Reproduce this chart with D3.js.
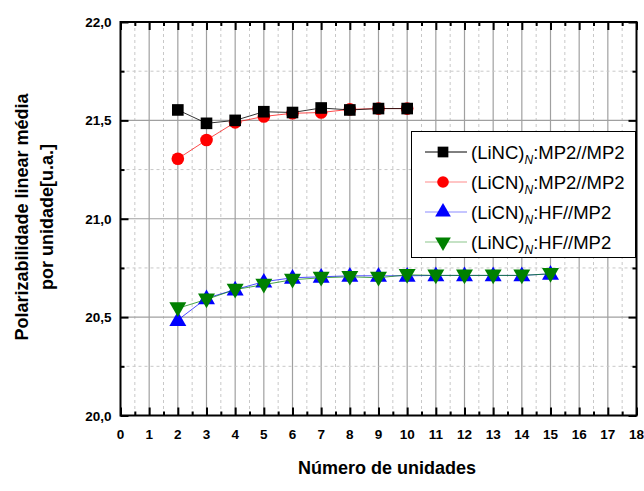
<!DOCTYPE html>
<html><head><meta charset="utf-8">
<script src="https://cdn.jsdelivr.net/npm/d3@7"></script>
<style>body{margin:0;background:#fff;} svg{display:block;font-family:"Liberation Sans",Arial,sans-serif;}</style>
</head><body><svg id="c" width="644" height="491"></svg>
<script>
const nAll = [2,3,4,5,6,7,8,9,10,11,12,13,14,15];
const linc_mp2 = [21.553,21.485,21.50,21.544,21.54,21.563,21.553,21.56,21.56];
const licn_mp2 = [21.305,21.40,21.49,21.52,21.536,21.54,21.556,21.56,21.56];
const licn_hf = [20.485,20.596,20.64,20.68,20.70,20.705,20.71,20.71,20.71,20.712,20.712,20.712,20.712,20.72];
const linc_hf = [20.545,20.59,20.64,20.665,20.69,20.70,20.705,20.70,20.715,20.712,20.712,20.712,20.712,20.72];
const seriesNames = ["(LiNC)","(LiCN)","(LiCN)","(LiNC)"];
const seriesSuffix = [":MP2//MP2",":MP2//MP2",":HF//MP2",":HF//MP2"];
const xTicks = d3.range(0,19);
const yTickLabels = ["20,0","20,5","21,0","21,5","22,0"];
const yTicks = [20,20.5,21,21.5,22];

const svg = d3.select("#c");
const L=120.5,R=636.5,T=22,B=415.5;
const x = d3.scaleLinear().domain([0,18]).range([L,R]);
const y = d3.scaleLinear().domain([20,22]).range([B,T]);

// grid
const g = svg.append("g");
d3.range(0.5,18,1).forEach(v=>g.append("line").attr("x1",x(v)).attr("x2",x(v)).attr("y1",T).attr("y2",B).attr("stroke","#c8c8c8").attr("stroke-width",1).attr("stroke-dasharray","3,3"));
d3.range(1,18).forEach(v=>g.append("line").attr("x1",x(v)).attr("x2",x(v)).attr("y1",T).attr("y2",B).attr("stroke","#a0a0a0").attr("stroke-width",1.2));
[20.25,20.75,21.25,21.75].forEach(v=>g.append("line").attr("x1",L).attr("x2",R).attr("y1",y(v)).attr("y2",y(v)).attr("stroke","#c8c8c8").attr("stroke-dasharray","3,3"));
[20.5,21,21.5].forEach(v=>g.append("line").attr("x1",L).attr("x2",R).attr("y1",y(v)).attr("y2",y(v)).attr("stroke","#a0a0a0").attr("stroke-width",1.2));

// axes (inward ticks)
function ax(axisFn, tr, vals, len){
  const a = svg.append("g").attr("transform",tr).call(axisFn.tickValues(vals).tickSize(len).tickFormat(""));
  a.select(".domain").remove();
  a.selectAll(".tick line").attr("stroke","#000").attr("stroke-width",2);
  return a;
}
const minorX = d3.range(0.5,18,1);
const minorY = [20.25,20.75,21.25,21.75];
ax(d3.axisTop(x),`translate(0,${B})`,xTicks,8);
ax(d3.axisTop(x),`translate(0,${B})`,minorX,4);
ax(d3.axisBottom(x),`translate(0,${T})`,xTicks,8);
ax(d3.axisBottom(x),`translate(0,${T})`,minorX,4);
ax(d3.axisRight(y),`translate(${L},0)`,yTicks,8);
ax(d3.axisRight(y),`translate(${L},0)`,minorY,4);
ax(d3.axisLeft(y),`translate(${R},0)`,yTicks,8);
ax(d3.axisLeft(y),`translate(${R},0)`,minorY,4);
svg.append("rect").attr("x",L).attr("y",T).attr("width",R-L).attr("height",B-T).attr("fill","none").attr("stroke","#000").attr("stroke-width",2);

// tick labels
svg.append("g").selectAll("text").data(xTicks).join("text").attr("x",d=>x(d)).attr("y",B+23).attr("text-anchor","middle").attr("font-size",13.5).attr("font-weight","bold").text(d=>d);
svg.append("g").selectAll("text").data(yTicks).join("text").attr("x",L-9).attr("y",d=>y(d)+5).attr("text-anchor","end").attr("font-size",13.5).attr("font-weight","bold").text((d,i)=>yTickLabels[i]);

// titles
svg.append("text").attr("x",387).attr("y",474).attr("text-anchor","middle").attr("font-size",18).attr("font-weight","bold").text("Número de unidades");
const yt = svg.append("text").attr("transform","translate(28,217) rotate(-90)").attr("text-anchor","middle").attr("font-size",18).attr("font-weight","bold");
yt.append("tspan").attr("x",0).attr("dy",0).text("Polarizabilidade linear média");
yt.append("tspan").attr("x",0).attr("dy",25).text("por unidade[u.a.]");

// series
const cols = ["#000","#ff0000","#0000ff","#008000"];
const data = [
  linc_mp2.map((v,i)=>[nAll[i],v]),
  licn_mp2.map((v,i)=>[nAll[i],v]),
  licn_hf.map((v,i)=>[nAll[i],v]),
  linc_hf.map((v,i)=>[nAll[i],v])
];
const sym = [d3.symbolSquare, d3.symbolCircle, d3.symbolTriangle, d3.symbolTriangle];
const sizes = [135,125,125,125];
const rot = [0,0,0,180];
const line = d3.line().x(d=>x(d[0])).y(d=>y(d[1]));
[1,0,2,3].forEach(k=>{
  svg.append("path").attr("d",line(data[k])).attr("fill","none").attr("stroke",cols[k]).attr("stroke-width",1).attr("opacity",k==0?0.8:0.7);
  svg.append("g").selectAll("path").data(data[k]).join("path")
    .attr("transform",d=>`translate(${x(d[0])},${y(d[1])+(k==2?1:(k==3?-1:0))}) rotate(${rot[k]})`)
    .attr("d",d3.symbol().type(sym[k]).size(sizes[k])).attr("fill",cols[k]);
});

// legend
const lg = svg.append("g");
lg.append("rect").attr("x",411.5).attr("y",131.5).attr("width",224).attr("height",126).attr("fill","#fff").attr("stroke","#000").attr("stroke-width",1);
const rowsY = [152,182,212,242];
rowsY.forEach((ry,k)=>{
  lg.append("line").attr("x1",425).attr("x2",467).attr("y1",ry).attr("y2",ry).attr("stroke",cols[k]).attr("stroke-width",1).attr("opacity",k==0?1:0.45);
  lg.append("path").attr("transform",`translate(443,${ry}) rotate(${rot[k]})`).attr("d",d3.symbol().type(sym[k]).size(sizes[k]*0.85)).attr("fill",cols[k]);
  const t = lg.append("text").attr("x",471).attr("y",ry+6.5).attr("font-size",18.5);
  t.append("tspan").text(seriesNames[k]);
  t.append("tspan").attr("font-size",12).attr("font-style","italic").attr("dy",5).text("N");
  t.append("tspan").attr("dy",-5).text(seriesSuffix[k]);
});
</script></body></html>
